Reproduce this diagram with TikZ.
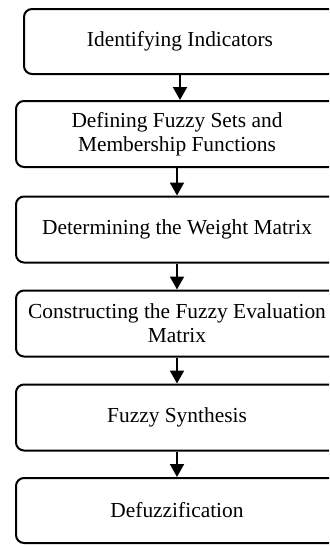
\documentclass[tikz,border=0pt]{standalone}
\usepackage{fontspec}
\setmainfont{Liberation Serif}
\usetikzlibrary{arrows.meta}

\tikzset{
	stage/.style = {draw, line width = 1pt, rounded corners = 4pt, align = center, minimum width = 161pt, minimum height = 33pt, inner sep = 0pt, font = \fontsize{10.7}{12}\selectfont},
	flow/.style = {-{Triangle[length = 6.5pt, width = 7pt]}, line width = 1pt}
}

\begin{document}
\begin{tikzpicture}[x = 0.5pt, y = -0.5pt]
	\useasboundingbox (0,0) rectangle (329,546);
	\clip (0,0) rectangle (329,546);
	
	\node[stage, minimum width = 156pt, minimum height = 32.5pt] (ident) at (180,41.5) {Identifying Indicators};
	\node[stage] (sets) at (177,134) {Defining Fuzzy Sets and\\Membership Functions};
	\node[stage] (weight) at (177,229.5) {Determining the Weight Matrix};
	\node[stage] (evalm) at (177,323.5) {Constructing the Fuzzy Evaluation\\Matrix};
	\node[stage] (synth) at (177,417.5) {Fuzzy Synthesis};
	\node[stage, minimum height = 32.5pt] (defuzz) at (177,510.5) {Defuzzification};
	
	\draw[flow] (ident.south) -- (ident.south |- sets.north);
	\draw[flow] (sets) -- (weight);
	\draw[flow] (weight) -- (evalm);
	\draw[flow] (evalm) -- (synth);
	\draw[flow] (synth) -- (defuzz);
\end{tikzpicture}
\end{document}
